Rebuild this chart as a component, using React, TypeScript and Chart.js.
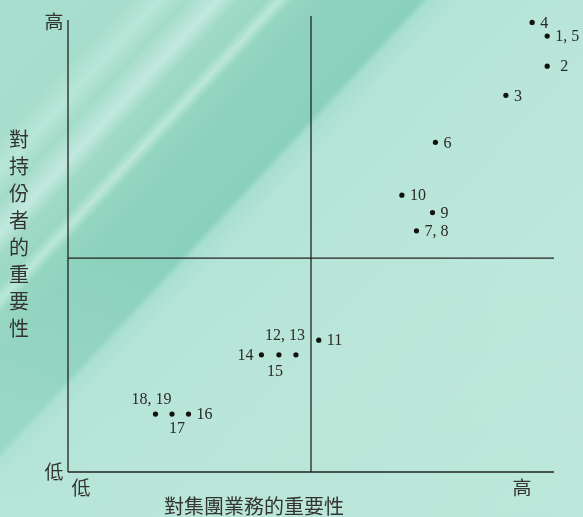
import React, { useEffect, useRef } from "react";
import { Chart, registerables } from "chart.js";

Chart.register(...registerables);

// ---- data ----
const pointLabels = ["4", "1, 5", "2", "3", "6", "10", "9", "7, 8", "11", "14", "15", "12, 13", "18, 19", "17", "16"];
const groupImportance = [9.55, 9.86, 9.86, 9.01, 7.56, 6.87, 7.5, 7.17, 5.16, 3.98, 4.34, 4.69, 1.8, 2.14, 2.48];
const holderImportance = [9.86, 9.56, 8.9, 8.26, 7.23, 6.07, 5.69, 5.29, 2.89, 2.57, 2.57, 2.57, 1.27, 1.27, 1.27];
const labelPlacement = ["right", "right", "right2", "right", "right", "right", "right", "right", "right", "left", "below", "aboveL", "above", "belowR", "right"];

const xAxisTitle = "對集團業務的重要性";
const yAxisTitle = "對持份者的重要性";
const lowLabel = "低";
const highLabel = "高";

const axisMin = 0;
const axisMax = 10;
const yAxisTop = 9.91;
const xMid = 5;
const yMid = 4.69;

const placements: Record<string, { dx: number; dy: number; align: CanvasTextAlign }> = {
  right: { dx: 8, dy: 0, align: "left" },
  right2: { dx: 13, dy: 0, align: "left" },
  left: { dx: -8, dy: 0, align: "right" },
  aboveL: { dx: -11, dy: -20, align: "center" },
  above: { dx: -4, dy: -15, align: "center" },
  below: { dx: -4, dy: 15.5, align: "center" },
  belowR: { dx: 5, dy: 14, align: "center" },
};

const textPlugin = {
  id: "quadText",
  afterDatasetsDraw(chart: any) {
    const { ctx, chartArea } = chart;
    const meta = chart.getDatasetMeta(4);
    ctx.save();
    ctx.fillStyle = "#2a2a2a";
    ctx.font = '16px "Liberation Serif", "DejaVu Serif", serif';
    ctx.textBaseline = "middle";
    meta.data.forEach((el: any, i: number) => {
      const p = placements[labelPlacement[i]];
      ctx.textAlign = p.align;
      ctx.fillText(pointLabels[i], el.x + p.dx, el.y + p.dy + 1);
    });

    // axis end labels & titles
    ctx.fillStyle = "#333";
    ctx.font = '19px "Noto Sans CJK TC", sans-serif';
    ctx.textAlign = "center";
    ctx.textBaseline = "middle";
    const { left, right, top, bottom } = chartArea;
    ctx.fillText(highLabel, left - 14, top + 6);
    ctx.fillText(lowLabel, left - 14, bottom);
    ctx.fillText(lowLabel, left + 13, bottom + 16);
    ctx.fillText(highLabel, right - 32, bottom + 16);

    ctx.font = '20px "Noto Sans CJK TC", sans-serif';
    ctx.fillText(xAxisTitle, 254, bottom + 34);
    const chars = yAxisTitle.split("");
    chars.forEach((c, i) => {
      ctx.fillText(c, 19, 139 + i * 27);
    });
    ctx.restore();
  },
};

const lineStyle = {
  type: "line" as const,
  showLine: true,
  borderColor: "#222",
  borderWidth: 1.3,
  pointRadius: 0,
  fill: false,
  clip: false as any,
};

export default function App() {
  const ref = useRef<HTMLCanvasElement | null>(null);

  useEffect(() => {
    document.body.style.margin = "0";
    const canvas = ref.current;
    if (!canvas) return;
    const chart = new Chart(canvas, {
      type: "scatter",
      data: {
        datasets: [
          { ...lineStyle, data: [{ x: axisMin, y: axisMin }, { x: axisMin, y: yAxisTop }] },
          { ...lineStyle, data: [{ x: axisMin, y: axisMin }, { x: axisMax, y: axisMin }] },
          { ...lineStyle, data: [{ x: xMid, y: axisMin }, { x: xMid, y: axisMax }] },
          { ...lineStyle, data: [{ x: axisMin, y: yMid }, { x: axisMax, y: yMid }] },
          {
            type: "scatter",
            data: groupImportance.map((x, i) => ({ x, y: holderImportance[i] })),
            pointRadius: 2.6,
            pointBackgroundColor: "#111",
            pointBorderWidth: 0,
            clip: false as any,
          },
        ] as any,
      },
      options: {
        responsive: false,
        animation: false,
        devicePixelRatio: 1,
        layout: { padding: { left: 68, right: 29, top: 16, bottom: 45 } },
        plugins: { legend: { display: false }, tooltip: { enabled: false } },
        events: [],
        scales: {
          x: { type: "linear", min: axisMin, max: axisMax, display: false },
          y: { type: "linear", min: axisMin, max: axisMax, display: false },
        },
      },
      plugins: [textPlugin],
    });
    return () => chart.destroy();
  }, []);

  const bg =
    "linear-gradient(180deg, rgba(184,230,216,0) 50%, rgba(184,230,216,0.5) 100%), " +
    "linear-gradient(133deg, #a9dfce 0%, #a7ddcc 12%, #b8e6d8 15%, #a3dbc9 17.5%, #c2e9de 20.5%, #a0dac7 22.5%, #9ad8c4 25%, #bce7da 26.3%, #95d6c1 27.5%, #8dd2bd 31%, #8ad1bc 39.5%, #a8dfcf 40.3%, #b4e4d6 43%, #bae6d9 60%, #c0e9dd 100%)";

  return (
    <div style={{ position: "fixed", left: 0, top: 0, width: 583, height: 517, background: bg }}>
      <canvas ref={ref} width={583} height={517} style={{ display: "block" }} />
    </div>
  );
}
